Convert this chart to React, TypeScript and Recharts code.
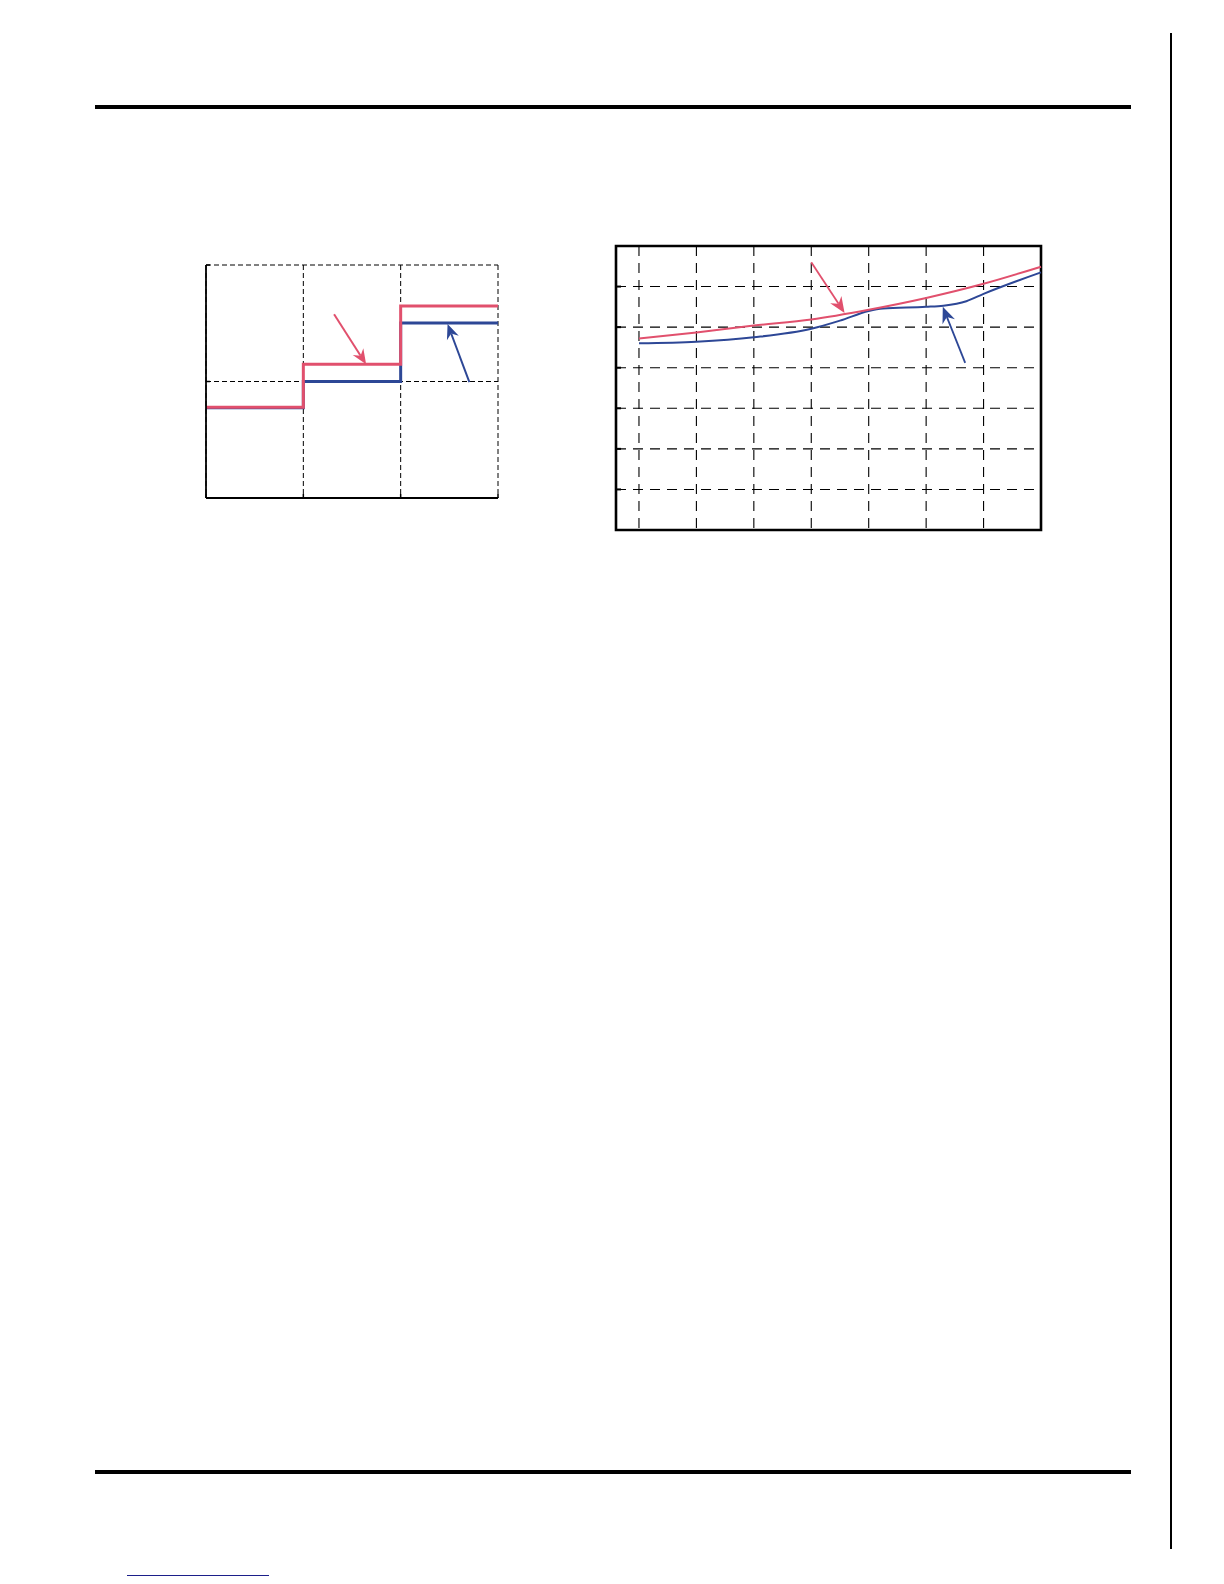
import React from "react";
import {
  LineChart,
  Line,
  XAxis,
  YAxis,
  CartesianGrid,
  ReferenceLine,
  ReferenceArea,
} from "recharts";

// left chart: step response, three bands
const stepX = [0, 1, 2, 3];
const stepRed = [0.78, 1.148, 1.648, 1.648];
const stepBlue = [0.775, 1.0, 1.502, 1.502];
const stepTicksX = [0, 1, 2, 3];
const stepTicksY = [0, 1, 2];

// right chart: two curves over x
const curveRedX = [0, 1, 2, 3, 4, 5, 6, 7];
const curveRedY = [4.72, 4.87, 5.04, 5.19, 5.43, 5.72, 6.07, 6.49];
const curveBlueX = [0, 1, 2, 3, 3.5, 4, 4.25, 5, 5.3, 5.7, 6, 7];
const curveBlueY = [4.6, 4.64, 4.75, 4.96, 5.16, 5.4, 5.46, 5.5, 5.53, 5.64, 5.82, 6.35];
const curveTicksX = [0, 1, 2, 3, 4, 5, 6];
const curveTicksY = [1, 2, 3, 4, 5, 6];

// annotation arrows [fromX, fromY, toX, toY]
const stepRedArrow = [1.316, 1.577, 1.645, 1.148];
const stepBlueArrow = [2.706, 0.994, 2.482, 1.494];
const curveRedArrow = [3.0, 6.6, 3.58, 5.35];
const curveBlueArrow = [5.68, 4.12, 5.29, 5.5];

const RED = "#e1506d";
const BLUE = "#2d4796";

const toRows = (xs: number[], ys: number[]) => xs.map((x, i) => ({ x, y: ys[i] }));

const arrowShape = (color: string, width: number, head: number) => (p: any) => {
  const { x1, y1, x2, y2 } = p;
  const dx = x2 - x1;
  const dy = y2 - y1;
  const len = Math.hypot(dx, dy) || 1;
  const ux = dx / len;
  const uy = dy / len;
  const px = -uy;
  const py = ux;
  const w = head * 0.42;
  const bx = x2 - ux * head;
  const by = y2 - uy * head;
  const nx = x2 - ux * head * 0.68;
  const ny = y2 - uy * head * 0.68;
  const pts = `${x2},${y2} ${bx + px * w},${by + py * w} ${nx},${ny} ${bx - px * w},${by - py * w}`;
  return (
    <g>
      <line x1={x1} y1={y1} x2={nx} y2={ny} stroke={color} strokeWidth={width} />
      <polygon points={pts} fill={color} />
    </g>
  );
};

const arrowLine = (a: number[], color: string, width: number, head: number) => (
  <ReferenceLine
    segment={[
      { x: a[0], y: a[1] },
      { x: a[2], y: a[3] },
    ]}
    shape={arrowShape(color, width, head)}
    ifOverflow="visible"
  />
);

function StepChart() {
  return (
    <LineChart width={312} height={253} margin={{ top: 10, right: 10, bottom: 9, left: 9 }}>
      <CartesianGrid stroke="#000" strokeDasharray="5 3" strokeWidth={1} />
      <XAxis
        type="number"
        dataKey="x"
        domain={[0, 3]}
        ticks={stepTicksX}
        height={1}
        axisLine={{ stroke: "#000", strokeWidth: 1.8 }}
        tickLine={{ stroke: "#000", strokeWidth: 1.5 }}
        tickSize={-4}
        tickFormatter={() => ""}
      />
      <YAxis
        type="number"
        domain={[0, 2]}
        ticks={stepTicksY}
        width={1}
        axisLine={{ stroke: "#000", strokeWidth: 1.8 }}
        tickLine={{ stroke: "#000", strokeWidth: 1.5 }}
        tickSize={-4}
        tickFormatter={() => ""}
      />
      <Line
        data={toRows(stepX, stepBlue)}
        dataKey="y"
        type="stepAfter"
        stroke={BLUE}
        strokeWidth={3}
        dot={false}
        isAnimationActive={false}
      />
      <Line
        data={toRows(stepX, stepRed)}
        dataKey="y"
        type="stepAfter"
        stroke={RED}
        strokeWidth={3}
        dot={false}
        isAnimationActive={false}
      />
      {arrowLine(stepRedArrow, RED, 2, 15)}
      {arrowLine(stepBlueArrow, BLUE, 2, 15)}
    </LineChart>
  );
}

function CurveChart() {
  return (
    <LineChart width={445} height={304} margin={{ top: 10, right: 10, bottom: 9, left: 9 }}>
      <CartesianGrid stroke="#000" strokeDasharray="10 7" strokeWidth={1.1} />
      <XAxis
        type="number"
        dataKey="x"
        domain={[-0.4, 7]}
        ticks={curveTicksX}
        height={1}
        axisLine={false}
        tickLine={false}
        tickFormatter={() => ""}
      />
      <YAxis
        type="number"
        domain={[0, 7]}
        ticks={curveTicksY}
        width={1}
        axisLine={false}
        tickLine={{ stroke: "#000", strokeWidth: 2 }}
        tickSize={-5}
        tickFormatter={() => ""}
      />
      <Line
        data={toRows(curveBlueX, curveBlueY)}
        dataKey="y"
        type="monotone"
        stroke={BLUE}
        strokeWidth={2}
        dot={false}
        isAnimationActive={false}
      />
      <Line
        data={toRows(curveRedX, curveRedY)}
        dataKey="y"
        type="monotone"
        stroke={RED}
        strokeWidth={2}
        dot={false}
        isAnimationActive={false}
      />
      <ReferenceArea x1={-0.4} x2={7} y1={0} y2={7} fill="none" stroke="#000" strokeWidth={2.6} ifOverflow="visible" />
      {arrowLine(curveRedArrow, RED, 1.8, 16)}
      {arrowLine(curveBlueArrow, BLUE, 1.8, 16)}
    </LineChart>
  );
}

export default function App() {
  return (
    <div style={{ position: "absolute", left: 0, top: 0, width: 1224, height: 1584, background: "#fff" }}>
      {/* page rules */}
      <div style={{ position: "absolute", left: 95, top: 105, width: 1036, height: 4, background: "#000" }} />
      <div style={{ position: "absolute", left: 95, top: 1470, width: 1036, height: 3.5, background: "#000" }} />
      <div style={{ position: "absolute", left: 1170, top: 33, width: 2, height: 1516, background: "#000" }} />
      <div style={{ position: "absolute", left: 127, top: 1574.5, width: 142, height: 1.2, background: "#1c1f8a" }} />

      <div style={{ position: "absolute", left: 196, top: 255 }}>
        <StepChart />
      </div>
      <div style={{ position: "absolute", left: 606, top: 236 }}>
        <CurveChart />
      </div>
    </div>
  );
}
